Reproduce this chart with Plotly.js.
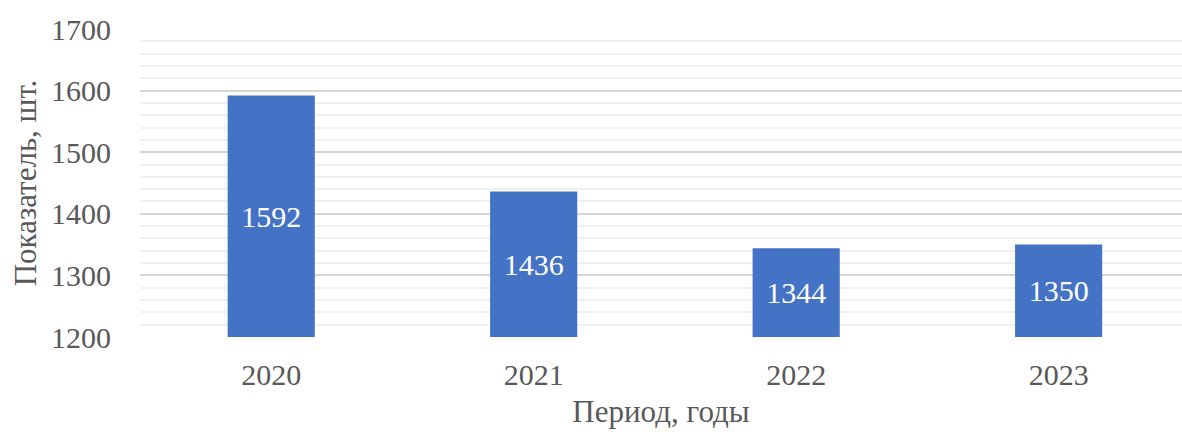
<!DOCTYPE html>
<html>
<head>
<meta charset="utf-8">
<script src="https://cdn.plot.ly/plotly-3.0.1.min.js"></script>
<style>
  html, body { margin: 0; padding: 0; background: #fff; }
  #graph { width: 1182px; height: 434px; }
</style>
</head>
<body>
<div id="graph"></div>
<script>
const years = ['2020', '2021', '2022', '2023']
const values = [1592, 1436, 1344, 1350]
const axisBase = 1200

const graphData = [
    {
        x: years,
        y: values.map(v => v - axisBase),
        base: axisBase,
        type: 'bar',
        width: 0.332,
        marker: { color: '#4472c4' },
        text: values.map(String),
        textposition: 'inside',
        insidetextanchor: 'middle',
        textangle: 0,
        textfont: { family: 'Liberation Serif', size: 30, color: '#ffffff' },
        hoverinfo: 'none',
    }
]

const layout = {
    width: 1182,
    height: 434,
    margin: { l: 140, r: 0, t: 29, b: 97 },
    paper_bgcolor: '#ffffff',
    plot_bgcolor: '#ffffff',
    showlegend: false,
    font: { family: 'Liberation Serif', color: '#595959', size: 30 },
    xaxis: {
        type: 'category',
        range: [-0.5, 3.47],
        showgrid: false,
        zeroline: false,
        showline: false,
        ticks: '',
        ticklabelstandoff: 17,
        tickfont: { size: 30, color: '#595959' },
        title: {
            text: 'Период, годы',
            font: { size: 31, color: '#595959' },
            standoff: 10,
        },
    },
    yaxis: {
        range: [1200, 1700],
        dtick: 100,
        tick0: 1200,
        showgrid: true,
        gridcolor: '#d6d6d6',
        gridwidth: 2,
        zeroline: false,
        showline: false,
        ticks: '',
        ticklabelstandoff: 28,
        tickfont: { size: 30, color: '#595959' },
        minor: {
            dtick: 20,
            tick0: 1200,
            showgrid: true,
            gridcolor: '#f0f0f0',
            gridwidth: 2,
        },
        title: {
            text: 'Показатель, шт.',
            font: { size: 31, color: '#595959' },
            standoff: 5,
        },
    },
}

Plotly.newPlot('graph', graphData, layout, { staticPlot: true })
</script>
</body>
</html>
